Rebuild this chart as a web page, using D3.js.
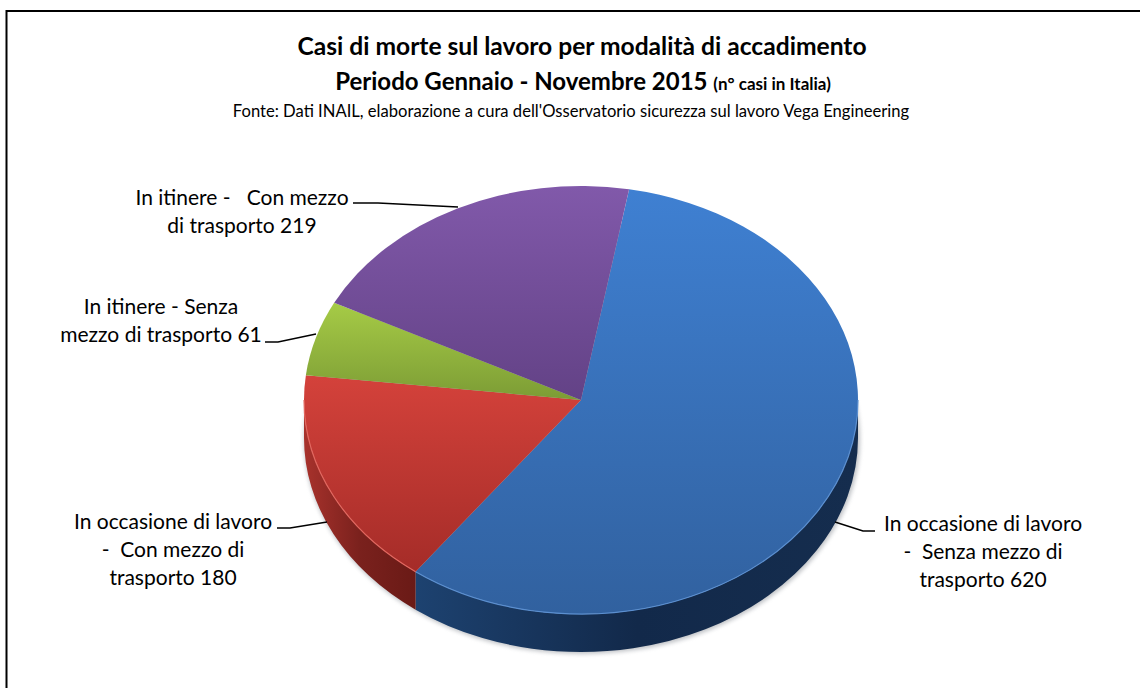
<!DOCTYPE html>
<html>
<head>
<meta charset="utf-8">
<script src="https://cdn.jsdelivr.net/npm/d3@7"></script>
<style>
  html, body { margin: 0; padding: 0; background: #fff; }
  text { font-family: Lato, "Open Sans", sans-serif; fill: #000; }
</style>
</head>
<body>
<div id="chart"></div>
<script>
const categories = [
  ['In occasione di lavoro', '-  Senza mezzo di', 'trasporto 620'],
  ['In occasione di lavoro', '-  Con mezzo di', 'trasporto 180'],
  ['In itinere - Senza', 'mezzo di trasporto 61'],
  ['In itinere -   Con mezzo', 'di trasporto 219'],
];
const values = [620, 180, 61, 219];
const topColors = [
  ['#3f80d2', '#31619f'],
  ['#d4423b', '#a52c28'],
  ['#a6cb46', '#7c9c35'],
  ['#8159aa', '#634286'],
];
const sideColors = [
  ['#1d4270', '#12294a', '#152d4e'],
  ['#a8322c', '#7a211d', '#6a1a16'],
];

const WIDTH = 1140;
const HEIGHT = 688;
const cx = 581;
const cy = 400;
const rx = 277;
const ry = 214;
const depth = 38;
const startAngle = (10 * Math.PI) / 180;

const labelPositions = [
  { x: 983, y: 531 },
  { x: 173, y: 529 },
  { x: 161, y: 314 },
  { x: 242, y: 205 },
];
const leaders = [
  [[835, 522], [863, 531], [875, 531]],
  [[277, 528], [290, 528], [327, 522]],
  [[265, 342], [278, 342], [316, 334]],
  [[353, 203], [378, 203], [458, 207]],
];

const svg = d3.select('#chart').append('svg').attr('width', WIDTH).attr('height', HEIGHT);
const defs = svg.append('defs');

defs.append('filter').attr('id', 'blur').append('feGaussianBlur').attr('stdDeviation', 2);

topColors.forEach((c, i) => {
  const g = defs.append('linearGradient')
    .attr('id', `top-${i}`)
    .attr('x1', 0).attr('x2', 0)
    .attr('y1', 0).attr('y2', 1);
  g.append('stop').attr('offset', '0%').attr('stop-color', c[0]);
  g.append('stop').attr('offset', '100%').attr('stop-color', c[1]);
});
sideColors.forEach((c, i) => {
  const g = defs.append('linearGradient')
    .attr('id', `side-${i}`)
    .attr('x1', 0).attr('x2', 1)
    .attr('y1', 0).attr('y2', 0);
  g.append('stop').attr('offset', '0%').attr('stop-color', c[0]);
  g.append('stop').attr('offset', '50%').attr('stop-color', c[1]);
  g.append('stop').attr('offset', '100%').attr('stop-color', c[2]);
});

// frame
svg.append('path')
  .attr('d', `M6.5,${HEIGHT} V11 H${WIDTH}`)
  .attr('fill', 'none')
  .attr('stroke', '#000')
  .attr('stroke-width', 2);

// titles
const title = svg.append('g').attr('text-anchor', 'middle');
title.append('text').attr('x', 582).attr('y', 55)
  .attr('font-size', 24.6).attr('font-weight', 700)
  .text('Casi di morte sul lavoro per modalità di accadimento');
const t2 = title.append('text').attr('x', 583).attr('y', 90)
  .attr('font-size', 24).attr('font-weight', 700);
t2.append('tspan').text('Periodo Gennaio - Novembre 2015 ');
t2.append('tspan').attr('font-size', 17).text('(n° casi in Italia)');
title.append('text').attr('x', 571).attr('y', 117)
  .attr('font-size', 16.6)
  .text("Fonte: Dati INAIL, elaborazione a cura dell'Osservatorio sicurezza sul lavoro Vega Engineering");

const pie = d3.pie().sort(null)
  .startAngle(startAngle)
  .endAngle(startAngle + 2 * Math.PI);
const arcs = pie(values);
const arc = d3.arc().innerRadius(0).outerRadius(rx);

const px = (a) => cx + rx * Math.sin(a);
const py = (a, dy = 0) => cy - ry * Math.cos(a) + dy;

// front wall of one slice, only the part between 90 and 270 degrees shows
const sidePath = (a0, a1) => {
  const from = Math.max(a0, Math.PI / 2);
  const to = Math.min(a1, (3 * Math.PI) / 2);
  if (from >= to) return null;
  const large = to - from > Math.PI ? 1 : 0;
  return `M${px(from)},${py(from)}`
    + `A${rx},${ry} 0 ${large} 1 ${px(to)},${py(to)}`
    + `L${px(to)},${py(to, depth)}`
    + `A${rx},${ry} 0 ${large} 0 ${px(from)},${py(from, depth)}Z`;
};

// soft shadow under the disc
svg.append('ellipse')
  .attr('cx', cx + 1).attr('cy', cy + depth + 1)
  .attr('rx', rx + 1).attr('ry', ry + 1)
  .attr('fill', '#8a8f96').attr('opacity', 0.55)
  .attr('filter', 'url(#blur)');

svg.append('g').selectAll('path')
  .data(arcs.slice(0, 2))
  .join('path')
  .attr('d', (d) => sidePath(d.startAngle, d.endAngle))
  .attr('fill', (d, i) => `url(#side-${i})`);

const face = svg.append('g')
  .attr('transform', `translate(${cx},${cy}) scale(1,${ry / rx})`);
face.selectAll('path')
  .data(arcs)
  .join('path')
  .attr('d', arc)
  .attr('fill', (d, i) => `url(#top-${i})`);

// lighter rim along the front edge
const rimColors = ['#5b8fd0', '#e2675f'];
svg.append('g').selectAll('path')
  .data(arcs.slice(0, 2))
  .join('path')
  .attr('d', (d) => {
    const from = Math.max(d.startAngle, Math.PI / 2);
    const to = Math.min(d.endAngle, (3 * Math.PI) / 2);
    return `M${px(from)},${py(from)}A${rx},${ry} 0 0 1 ${px(to)},${py(to)}`;
  })
  .attr('fill', 'none')
  .attr('stroke', (d, i) => rimColors[i])
  .attr('stroke-width', 1.2);

// leader lines
svg.append('g').selectAll('path')
  .data(leaders)
  .join('path')
  .attr('d', d3.line())
  .attr('fill', 'none')
  .attr('stroke', '#000')
  .attr('stroke-width', 1.4);

// labels
const labels = svg.append('g').selectAll('text')
  .data(categories)
  .join('text')
  .attr('text-anchor', 'middle')
  .attr('font-size', 21)
  .attr('transform', (d, i) => `translate(${labelPositions[i].x},${labelPositions[i].y})`);
labels.selectAll('tspan')
  .data((d) => d)
  .join('tspan')
  .attr('x', 0)
  .attr('dy', (d, i) => (i ? 28 : 0))
  .style('white-space', 'pre')
  .text((d) => d);
</script>
</body>
</html>
